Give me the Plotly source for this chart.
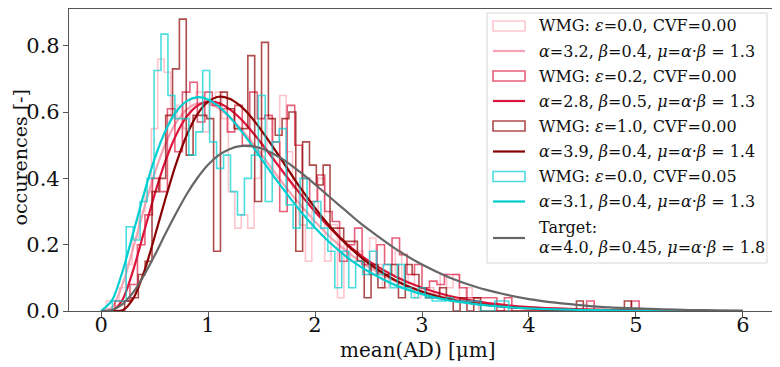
import plotly.graph_objects as go

# ---------------- data ----------------
eps_vals = [0.0, 0.2, 1.0, 0.0]
cvf_vals = [0.00, 0.00, 0.00, 0.05]

pink_start, pink_width = 0.05, 0.06
pink_heights = [0.03, 0.03, 0.07, 0.14, 0.22, 0.30, 0.36, 0.55, 0.76, 0.72,
                0.58, 0.62, 0.55, 0.64, 0.66, 0.54, 0.62, 0.66, 0.58, 0.36,
                0.25, 0.29, 0.25, 0.40, 0.48, 0.58, 0.40, 0.65, 0.48, 0.37,
                0.26, 0.15, 0.30, 0.40, 0.15, 0.26, 0.04, 0.20, 0.15, 0.18,
                0.11, 0.22, 0.14, 0.07, 0.11, 0.18, 0.07, 0.11, 0.04, 0.07,
                0.07, 0.04, 0.11, 0.07, 0.11, 0.04, 0.07, 0.04]

crimson_start, crimson_width = 0.13, 0.07
crimson_heights = [0.03, 0.03, 0.08, 0.20, 0.29, 0.40, 0.36, 0.61, 0.48, 0.66,
                   0.69, 0.57, 0.66, 0.62, 0.61, 0.54, 0.62, 0.50, 0.66, 0.58,
                   0.59, 0.51, 0.30, 0.62, 0.50, 0.40, 0.33, 0.41, 0.30, 0.27,
                   0.15, 0.20, 0.25, 0.14, 0.11, 0.20, 0.14, 0.22, 0.17, 0.11,
                   0.14, 0.07, 0.09, 0.08, 0.11, 0.11, 0.07, 0.04, 0.04, 0.04,
                   0.04, 0.00, 0.04, 0.00, 0.00, 0.00, 0.00, 0.00, 0.00, 0.00,
                   0.00, 0.00, 0.00, 0.03, 0.00, 0.00, 0.00, 0.00, 0.00, 0.03]

darkred_start, darkred_width = 0.22, 0.064
darkred_heights = [0.03, 0.04, 0.11, 0.15, 0.36, 0.40, 0.59, 0.73, 0.88, 0.47,
                   0.59, 0.59, 0.58, 0.18, 0.66, 0.61, 0.55, 0.55, 0.77, 0.33,
                   0.81, 0.58, 0.53, 0.58, 0.60, 0.18, 0.51, 0.44, 0.38, 0.44,
                   0.25, 0.25, 0.21, 0.21, 0.15, 0.04, 0.14, 0.07, 0.11, 0.14,
                   0.04, 0.14, 0.11, 0.07, 0.04, 0.04, 0.07, 0.04, 0.00, 0.04,
                   0.00, 0.04, 0.00, 0.00, 0.00, 0.00, 0.00, 0.00, 0.00, 0.00,
                   0.00, 0.00, 0.00, 0.00, 0.00, 0.00, 0.03, 0.00, 0.00, 0.00,
                   0.00, 0.00, 0.00, 0.03]

cyan_start, cyan_width = 0.04, 0.065
cyan_heights = [0.00, 0.03, 0.03, 0.254, 0.214, 0.33, 0.40, 0.725, 0.835, 0.65,
                0.58, 0.58, 0.47, 0.54, 0.725, 0.51, 0.43, 0.47, 0.36, 0.29,
                0.40, 0.47, 0.65, 0.33, 0.51, 0.55, 0.32, 0.25, 0.40, 0.25,
                0.33, 0.25, 0.18, 0.07, 0.18, 0.07, 0.15, 0.11, 0.18, 0.11,
                0.14, 0.07, 0.14, 0.07, 0.04, 0.07, 0.04, 0.03, 0.03, 0.04,
                0.03, 0.03, 0.03, 0.03, 0.00, 0.00, 0.03, 0.03]

fit_alpha = [3.2, 2.8, 3.9, 3.1]
fit_beta = [0.4, 0.5, 0.4, 0.4]
fit_mu = [1.3, 1.3, 1.4, 1.3]
target_alpha, target_beta, target_mu = 4.0, 0.45, 1.8

x_fit = [0.0, 0.1, 0.2, 0.3, 0.4, 0.5, 0.6, 0.7, 0.8, 0.9, 1.0, 1.1, 1.2, 1.3,
         1.4, 1.5, 1.6, 1.7, 1.8, 1.9, 2.0, 2.1, 2.2, 2.3, 2.4, 2.5,
         2.75, 3.0, 3.25, 3.5, 3.75, 4.0, 4.25, 4.5, 4.75, 5.0, 5.25, 5.5, 5.75, 6.0]
pink_fit = [0, 0.010, 0.080, 0.189, 0.307, 0.415, 0.503, 0.567, 0.607, 0.626, 0.626,
            0.611, 0.585, 0.552, 0.513, 0.471, 0.428, 0.385, 0.344, 0.306, 0.270,
            0.236, 0.206, 0.179, 0.155, 0.133,
            0.090, 0.060, 0.039, 0.026, 0.016, 0.010, 0.007, 0.004, 0.003, 0.002,
            0.001, 0.001, 0.0, 0.0]
crimson_fit = [0, 0, 0.034, 0.123, 0.237, 0.351, 0.451, 0.530, 0.586, 0.619, 0.632,
               0.627, 0.609, 0.581, 0.545, 0.505, 0.463, 0.420, 0.378, 0.338, 0.299,
               0.264, 0.231, 0.202, 0.175, 0.151,
               0.104, 0.070, 0.046, 0.030, 0.019, 0.012, 0.008, 0.005, 0.003, 0.002,
               0.001, 0.001, 0.0, 0.0]
darkred_fit = [0, 0, 0.002, 0.037, 0.116, 0.223, 0.337, 0.443, 0.530, 0.593, 0.631,
               0.646, 0.640, 0.619, 0.586, 0.544, 0.498, 0.450, 0.401, 0.355, 0.311,
               0.270, 0.233, 0.199, 0.170, 0.144,
               0.093, 0.058, 0.036, 0.022, 0.013, 0.008, 0.004, 0.003, 0.001, 0.001,
               0.0, 0.0, 0.0, 0.0]
cyan_fit = [0, 0.031, 0.119, 0.235, 0.353, 0.459, 0.542, 0.600, 0.633, 0.645, 0.638,
            0.617, 0.586, 0.547, 0.504, 0.458, 0.413, 0.369, 0.327, 0.287, 0.251,
            0.218, 0.189, 0.162, 0.139, 0.119,
            0.078, 0.051, 0.032, 0.021, 0.013, 0.008, 0.005, 0.003, 0.002, 0.001,
            0.001, 0.0, 0.0, 0.0]
target_fit = [0, 0.003, 0.021, 0.056, 0.107, 0.167, 0.232, 0.294, 0.352, 0.401, 0.441,
              0.470, 0.488, 0.497, 0.497, 0.490, 0.476, 0.457, 0.434, 0.409, 0.382,
              0.354, 0.326, 0.299, 0.271, 0.246,
              0.188, 0.140, 0.102, 0.073, 0.052, 0.036, 0.025, 0.017, 0.011, 0.008,
              0.005, 0.003, 0.002, 0.001]

x_ticks = [0, 1, 2, 3, 4, 5, 6]
y_ticks = [0.0, 0.2, 0.4, 0.6, 0.8]

# ---------------- styling ----------------
hist_colors = ["rgba(255,182,193,0.8)", "rgba(220,20,60,0.68)",
               "rgba(139,0,0,0.7)", "rgba(0,206,209,0.7)"]
curve_colors = ["#F5A3B4", "#DC143C", "#8B0000", "#00CED1"]
target_color = "#666666"

hists = [(pink_start, pink_width, pink_heights),
         (crimson_start, crimson_width, crimson_heights),
         (darkred_start, darkred_width, darkred_heights),
         (cyan_start, cyan_width, cyan_heights)]
fits = [pink_fit, crimson_fit, darkred_fit, cyan_fit]


def step_xy(start, width, heights):
    edges = [start + width * i for i in range(len(heights) + 1)]
    xs = [edges[0]] + edges
    ys = [0] + list(heights) + [0]
    return xs, ys


fig = go.Figure()
for k in range(4):
    s, w, h = hists[k]
    hx, hy = step_xy(s, w, h)
    fig.add_trace(go.Scatter(x=hx, y=hy, mode="lines", line_shape="hv",
                             line=dict(color=hist_colors[k], width=1.6),
                             hoverinfo="skip"))
    fig.add_trace(go.Scatter(x=x_fit, y=fits[k], mode="lines", line_shape="spline",
                             line=dict(color=curve_colors[k], width=2.2, smoothing=0.8)))
fig.add_trace(go.Scatter(x=x_fit, y=target_fit, mode="lines", line_shape="spline",
                         line=dict(color=target_color, width=2.2, smoothing=0.8)))

# ---------------- layout ----------------
# The page body has an 8px margin, so the figure is drawn 8px in from the window corner.
OFF = 8
WIN_W, WIN_H = 780, 367
W, H = WIN_W - OFF, WIN_H - OFF
PLOT_L, PLOT_R, PLOT_T, PLOT_B = 69, 775, 9, 311   # plot area in window pixels
PW, PH = PLOT_R - PLOT_L, PLOT_B - PLOT_T
Y_TOP = 0.8 * PH / (PLOT_B - 45.7)


def px_x(p):
    return (p - PLOT_L) / PW


def px_y(p):
    return (PLOT_B - p) / PH


axis_common = dict(showgrid=False, zeroline=False, showline=True, mirror=True,
                   linecolor="#555555", linewidth=1.2, ticks="outside", ticklen=5,
                   tickwidth=1.2, tickcolor="#555555",
                   tickfont=dict(family="DejaVu Serif", size=21, color="#111111"))
fig.update_layout(
    width=W, height=H,
    margin=dict(l=PLOT_L - OFF, r=WIN_W - PLOT_R, t=PLOT_T - OFF, b=WIN_H - PLOT_B),
    plot_bgcolor="white", paper_bgcolor="white", showlegend=False,
    font=dict(family="DejaVu Serif", size=20, color="#111111"),
    xaxis=dict(range=[-0.3, 6.3], tickvals=x_ticks, ticklabelstandoff=-10, **axis_common),
    yaxis=dict(range=[0, Y_TOP], tickvals=y_ticks, tickformat=".1f",
               ticklabelstandoff=-1, **axis_common),
)

annotations = [
    dict(text="mean(AD) [μm]", x=px_x(418), y=px_y(350), xref="paper", yref="paper",
         showarrow=False, xanchor="center", yanchor="middle",
         font=dict(family="DejaVu Serif", size=20, color="#111111")),
    dict(text="occurences [-]", x=px_x(19.5), y=px_y(158), xref="paper", yref="paper",
         showarrow=False, xanchor="center", yanchor="middle", textangle=-90,
         font=dict(family="DejaVu Serif", size=19, color="#111111")),
]
shapes = [dict(type="rect", xref="paper", yref="paper",
               x0=px_x(487), x1=px_x(767), y0=px_y(263), y1=px_y(13),
               line=dict(color="#d6d6d6", width=1), fillcolor="white", layer="above")]

row_y = [26, 51, 76, 101, 126, 151.5, 176.5, 201.5]
sw_x0, sw_x1, txt_x = 493, 525, 537
for k in range(4):
    yh = row_y[2 * k]
    yf = row_y[2 * k + 1]
    shapes.append(dict(type="rect", xref="paper", yref="paper",
                       x0=px_x(sw_x0), x1=px_x(sw_x1), y0=px_y(yh + 5), y1=px_y(yh - 5),
                       line=dict(color=hist_colors[k], width=1.6), fillcolor="rgba(0,0,0,0)",
                       layer="above"))
    shapes.append(dict(type="line", xref="paper", yref="paper",
                       x0=px_x(sw_x0), x1=px_x(sw_x1), y0=px_y(yf), y1=px_y(yf),
                       line=dict(color=curve_colors[k], width=2.2), layer="above"))
    hist_label = f"WMG: <i>ε</i>={eps_vals[k]:.1f}, CVF={cvf_vals[k]:.2f}"
    fit_label = (f"<i>α</i>={fit_alpha[k]:.1f}, <i>β</i>={fit_beta[k]:.1f}, "
                 f"<i>μ</i>=<i>α</i>·<i>β</i> = {fit_mu[k]:.1f}")
    for lab, yy in ((hist_label, yh), (fit_label, yf)):
        annotations.append(dict(text=lab, x=px_x(txt_x), y=px_y(yy), xref="paper",
                                yref="paper", showarrow=False, xanchor="left",
                                yanchor="middle",
                                font=dict(family="DejaVu Serif", size=16, color="#111111")))
# target entry (two lines)
shapes.append(dict(type="line", xref="paper", yref="paper",
                   x0=px_x(sw_x0), x1=px_x(sw_x1), y0=px_y(238), y1=px_y(238),
                   line=dict(color=target_color, width=2.2), layer="above"))
annotations.append(dict(text="Target:", x=px_x(txt_x), y=px_y(227.5), xref="paper",
                        yref="paper", showarrow=False, xanchor="left", yanchor="middle",
                        font=dict(family="DejaVu Serif", size=16, color="#111111")))
annotations.append(dict(text=(f"<i>α</i>={target_alpha:.1f}, <i>β</i>={target_beta:.2f}, "
                              f"<i>μ</i>=<i>α</i>·<i>β</i> = {target_mu:.1f}"),
                        x=px_x(txt_x), y=px_y(247), xref="paper",
                        yref="paper", showarrow=False, xanchor="left", yanchor="middle",
                        font=dict(family="DejaVu Serif", size=16, color="#111111")))

fig.update_layout(annotations=annotations, shapes=shapes)
fig.write_html("out.html")
